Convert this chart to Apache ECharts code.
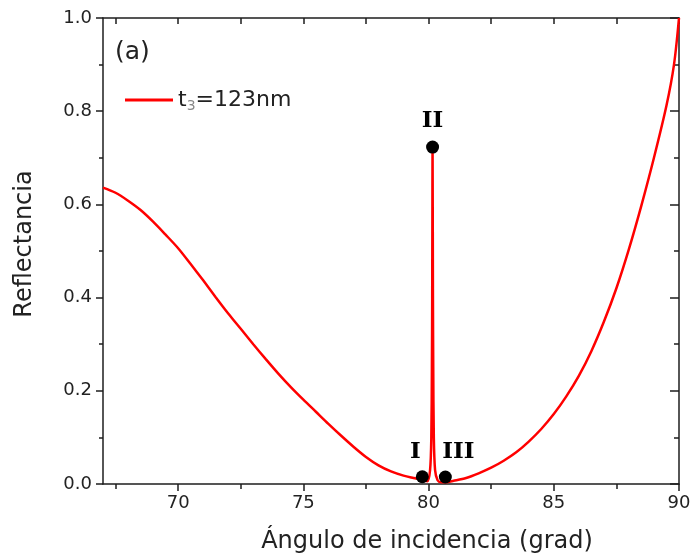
<!DOCTYPE html>
<html>
<head>
<meta charset="utf-8">
<script src="https://cdn.jsdelivr.net/npm/echarts@6/dist/echarts.min.js"></script>
<style>
  html, body { margin: 0; padding: 0; background: #fff; }
  #chart { width: 697px; height: 559px; }
</style>
</head>
<body>
<div id="chart"></div>
<script>
// reflectance curve
const angle = [67, 67.5, 68, 68.5, 69, 69.5, 70, 70.5, 71, 71.5, 72, 72.5, 73, 73.5, 74, 74.5, 75, 75.5, 76, 76.5,
  77, 77.5, 78, 78.5, 79, 79.4, 79.75, 79.95, 80.06, 80.11, 80.133, 80.145, 80.16, 80.175, 80.187, 80.21, 80.26,
  80.36, 80.5, 80.7, 81, 81.5, 82, 82.5, 83, 83.5, 84, 84.5, 85, 85.5, 86, 86.5, 87, 87.5, 88, 88.5, 89, 89.5, 89.8, 90];
const reflectance = [0.636, 0.625, 0.608, 0.588, 0.563, 0.535, 0.506, 0.472, 0.437, 0.401, 0.366, 0.333, 0.300, 0.268,
  0.237, 0.208, 0.181, 0.155, 0.129, 0.104, 0.080, 0.058, 0.040, 0.027, 0.018, 0.013, 0.009, 0.006, 0.03, 0.10, 0.25,
  0.40, 0.723, 0.40, 0.25, 0.10, 0.03, 0.008, 0.004, 0.004, 0.007, 0.013, 0.023, 0.035, 0.050, 0.068, 0.091, 0.118,
  0.150, 0.188, 0.232, 0.285, 0.348, 0.420, 0.504, 0.598, 0.700, 0.812, 0.900, 1.0];

// marked points I, II, III
const markerNames = ['I', 'II', 'III'];
const markerAngle = [79.75, 80.16, 80.67];
const markerReflect = [0.0155, 0.723, 0.015];

const xMajorTicks = [70, 75, 80, 85, 90];
const xMinorTicks = [67.5, 72.5, 77.5, 82.5, 87.5];
const seriesName = 't3=123nm';

const axisColor = '#1e1e1e';
const textColor = '#222';
const labelOffsets = [[-7, -25], [0, -26], [13, -25]];

const chart = echarts.init(document.getElementById('chart'));

const baseX = {
  type: 'value', min: 67, max: 90, gridIndex: 0,
  splitLine: { show: false },
  axisLine: { show: true, onZero: false, lineStyle: { color: axisColor, width: 1.5 } }
};
const baseY = {
  type: 'value', min: 0, max: 1, interval: 0.2,
  splitLine: { show: false },
  axisLine: { show: true, onZero: false, lineStyle: { color: axisColor, width: 1.5 } }
};

const option = {
  animation: false,
  backgroundColor: '#fff',
  grid: { left: 103, right: 18, top: 18, bottom: 71 },
  graphic: [{
    type: 'text', left: 115, top: 40,
    style: { text: '(a)', fontFamily: 'DejaVu Sans', fontSize: 25, fill: textColor }
  }],
  legend: {
    data: [seriesName],
    left: 120, top: 84,
    icon: 'rect',
    itemWidth: 48, itemHeight: 3, itemGap: 5,
    formatter: () => 't{s|3}=123nm',
    textStyle: {
      fontFamily: 'DejaVu Sans', fontSize: 22, color: textColor,
      rich: { s: { fontFamily: 'DejaVu Sans', fontSize: 14, color: '#888', padding: [12, 0, 0, 0] } }
    }
  },
  xAxis: [
    Object.assign({}, baseX, {
      position: 'bottom',
      name: 'Ángulo de incidencia (grad)',
      nameLocation: 'middle', nameGap: 46,
      nameTextStyle: { fontFamily: 'DejaVu Sans', fontSize: 24, color: textColor, padding: [0, 0, 0, 72] },
      axisTick: { show: true, inside: false, length: 7, customValues: xMajorTicks, lineStyle: { color: axisColor, width: 1.5 } },
      axisLabel: { show: true, margin: 10, customValues: xMajorTicks, fontFamily: 'DejaVu Sans', fontSize: 18, color: textColor }
    }),
    Object.assign({}, baseX, {
      position: 'bottom',
      axisLine: { show: false },
      axisTick: { show: true, inside: false, length: 5, customValues: xMinorTicks, lineStyle: { color: axisColor, width: 1.5 } },
      axisLabel: { show: false }
    }),
    Object.assign({}, baseX, {
      position: 'top',
      axisTick: { show: true, inside: true, length: 6, customValues: xMajorTicks.concat(xMinorTicks), lineStyle: { color: axisColor, width: 1.5 } },
      axisLabel: { show: false }
    })
  ],
  yAxis: [
    Object.assign({}, baseY, {
      position: 'left',
      name: 'Reflectancia',
      nameLocation: 'middle', nameGap: 66,
      nameTextStyle: { fontFamily: 'DejaVu Sans', fontSize: 24, color: textColor, padding: [0, 0, 0, 14] },
      axisTick: { show: true, inside: false, length: 7, lineStyle: { color: axisColor, width: 1.5 } },
      minorTick: { show: true, splitNumber: 2, length: 4, lineStyle: { color: axisColor, width: 1.5 } },
      axisLabel: { margin: 11, fontFamily: 'DejaVu Sans', fontSize: 18, color: textColor, formatter: v => v.toFixed(1) }
    }),
    Object.assign({}, baseY, {
      position: 'right',
      axisTick: { show: true, inside: true, length: 9, lineStyle: { color: axisColor, width: 1.5 } },
      minorTick: { show: true, splitNumber: 2, length: 5, lineStyle: { color: axisColor, width: 1.5 } },
      axisLabel: { show: false }
    })
  ],
  series: [
    {
      name: seriesName,
      type: 'line',
      xAxisIndex: 0, yAxisIndex: 0,
      data: angle.map((a, i) => [a, reflectance[i]]),
      symbol: 'none',
      smooth: 0.3,
      lineStyle: { color: '#ff0000', width: 2.5 },
      itemStyle: { color: '#ff0000' },
      z: 2
    },
    {
      name: 'puntos',
      type: 'scatter',
      xAxisIndex: 0, yAxisIndex: 0,
      symbolSize: 13,
      itemStyle: { color: '#000', opacity: 1 },
      data: markerNames.map((n, i) => ({
        name: n,
        value: [markerAngle[i], markerReflect[i]],
        label: { offset: labelOffsets[i] }
      })),
      label: {
        show: true, position: 'inside', formatter: p => p.name,
        fontFamily: 'DejaVu Serif', fontSize: 23, fontWeight: 'bold', color: '#000'
      },
      z: 3
    }
  ]
};

chart.setOption(option);
</script>
</body>
</html>
